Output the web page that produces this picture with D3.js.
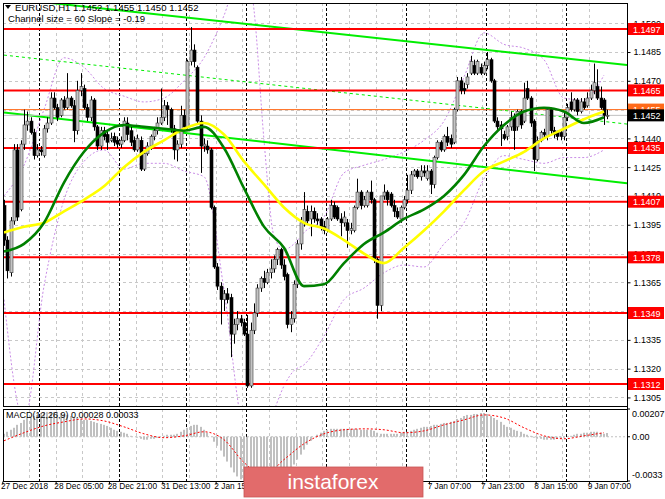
<!DOCTYPE html>
<html><head><meta charset="utf-8">
<script src="https://cdn.jsdelivr.net/npm/d3@7"></script>
<style>body{margin:0;background:#fff}svg{display:block}text{font-family:"Liberation Sans",Arial,sans-serif}</style>
</head><body><svg id="c" width="665" height="499"></svg>
<script>
// ---------- data ----------
const tickBars = [0,16,32,48,64,80,96,112,128,144,160,176];
const tickLabels = ["27 Dec 2018","28 Dec 05:00","28 Dec 21:00","31 Dec 13:00","2 Jan 15:00","3 Jan 07:00","3 Jan 23:00","4 Jan 15:00","7 Jan 07:00","7 Jan 23:00","8 Jan 15:00","9 Jan 07:00"];
const daySeparators = [11,35,55,73,97,121,145,169];
const priceTicks = [1.1305,1.1320,1.1335,1.1350,1.1365,1.1380,1.1395,1.1410,1.1425,1.1440,1.1455,1.1470,1.1485,1.1500];
const levels = [1.1497,1.1465,1.1435,1.1407,1.1378,1.1349,1.1312];
const askPrice = 1.1455, bidPrice = 1.1452;

const open = [1.1405,1.1387,1.1370,1.1397,1.1434,1.1403,1.1437,1.1447,1.1449,1.1443,1.1431,1.1434,1.1431,1.1445,1.1448,1.1461,1.1456,1.1452,1.1460,1.1456,
1.1461,1.1457,1.1444,1.1465,1.1466,1.1456,1.1451,1.1460,1.1446,1.1436,1.1444,1.1442,1.1439,1.1441,1.1439,1.1437,1.1439,1.1448,1.1444,1.1439,
1.1434,1.1439,1.1424,1.1432,1.1436,1.1441,1.1444,1.1448,1.1451,1.1457,1.1455,1.1445,1.1434,1.1437,1.1452,1.1446,1.1480,1.1486,1.1477,1.1449,
1.1436,1.1436,1.1434,1.1404,1.1373,1.1363,1.1356,1.1359,1.1357,1.1338,1.1343,1.1346,1.1344,1.1338,1.1311,1.1340,1.1349,1.1362,1.1367,1.1365,
1.1370,1.1372,1.1377,1.1382,1.1374,1.1369,1.1343,1.1346,1.1364,1.1385,1.1396,1.1402,1.1398,1.1402,1.1398,1.1398,1.1394,1.1392,1.1398,1.1405,
1.1404,1.1398,1.1396,1.1396,1.1392,1.1392,1.1404,1.1412,1.1405,1.1405,1.1412,1.1408,1.1377,1.1353,1.1410,1.1412,1.1411,1.1405,1.1402,1.1398,
1.1404,1.1408,1.1413,1.1421,1.1423,1.1420,1.1423,1.1419,1.1423,1.1416,1.1430,1.1438,1.1434,1.1441,1.1440,1.1438,1.1455,1.1470,1.1466,1.1468,
1.1474,1.1478,1.1474,1.1477,1.1474,1.1478,1.1481,1.1470,1.1449,1.1447,1.1442,1.1441,1.1446,1.1451,1.1446,1.1454,1.1449,1.1466,1.1461,1.1449,
1.1429,1.1439,1.1443,1.1441,1.1455,1.1444,1.1443,1.1443,1.1441,1.1451,1.1459,1.1455,1.1460,1.1454,1.1459,1.1457,1.1461,1.1465,1.1467,1.1461,
1.1460,1.1452];
const high = [1.1408,1.1389,1.1399,1.1437,1.1437,1.1439,1.1455,1.1454,1.1451,1.1445,1.1437,1.1436,1.1447,1.1451,1.1464,1.1464,1.1458,1.1461,1.1462,1.1474,
1.1462,1.1460,1.1470,1.1474,1.1468,1.1458,1.1462,1.1461,1.1447,1.1446,1.1446,1.1444,1.1443,1.1443,1.1441,1.1441,1.1451,1.1451,1.1446,1.1441,
1.1442,1.1441,1.1434,1.1438,1.1442,1.1446,1.1451,1.1466,1.1460,1.1459,1.1456,1.1447,1.1439,1.1457,1.1455,1.1481,1.1498,1.1489,1.1478,1.1452,
1.1440,1.1439,1.1435,1.1405,1.1375,1.1365,1.1361,1.1362,1.1359,1.1346,1.1350,1.1348,1.1346,1.1348,1.1344,1.1354,1.1364,1.1368,1.1371,1.1372,
1.1377,1.1379,1.1383,1.1383,1.1377,1.1370,1.1350,1.1366,1.1387,1.1399,1.1412,1.1405,1.1405,1.1404,1.1401,1.1399,1.1397,1.1399,1.1408,1.1407,
1.1405,1.1401,1.1402,1.1398,1.1396,1.1405,1.1419,1.1413,1.1410,1.1413,1.1418,1.1409,1.1378,1.1410,1.1416,1.1413,1.1412,1.1408,1.1404,1.1405,
1.1410,1.1421,1.1423,1.1424,1.1424,1.1426,1.1426,1.1426,1.1424,1.1431,1.1439,1.1439,1.1442,1.1446,1.1442,1.1456,1.1472,1.1472,1.1469,1.1474,
1.1483,1.1481,1.1481,1.1479,1.1480,1.1485,1.1482,1.1471,1.1451,1.1449,1.1444,1.1447,1.1454,1.1453,1.1455,1.1455,1.1469,1.1470,1.1462,1.1450,
1.1441,1.1444,1.1445,1.1456,1.1456,1.1446,1.1444,1.1444,1.1454,1.1458,1.1464,1.1461,1.1461,1.1461,1.1461,1.1464,1.1468,1.1479,1.1476,1.1467,
1.1461,1.1455];
const low = [1.1384,1.1367,1.1368,1.1395,1.1397,1.1402,1.1434,1.1444,1.1442,1.1429,1.1430,1.1431,1.1430,1.1443,1.1447,1.1455,1.1449,1.1451,1.1455,1.1455,
1.1456,1.1438,1.1442,1.1462,1.1455,1.1449,1.1449,1.1444,1.1434,1.1434,1.1439,1.1434,1.1438,1.1436,1.1435,1.1435,1.1438,1.1439,1.1436,1.1433,
1.1433,1.1423,1.1423,1.1431,1.1434,1.1439,1.1442,1.1447,1.1449,1.1447,1.1443,1.1429,1.1428,1.1435,1.1444,1.1444,1.1478,1.1477,1.1447,1.1422,
1.1433,1.1432,1.1403,1.1372,1.1361,1.1343,1.1350,1.1354,1.1326,1.1333,1.1340,1.1342,1.1337,1.1310,1.1310,1.1338,1.1347,1.1360,1.1362,1.1364,
1.1367,1.1370,1.1374,1.1372,1.1366,1.1341,1.1339,1.1344,1.1362,1.1382,1.1394,1.1395,1.1389,1.1396,1.1395,1.1392,1.1390,1.1391,1.1397,1.1398,
1.1397,1.1389,1.1394,1.1383,1.1390,1.1391,1.1403,1.1403,1.1404,1.1404,1.1406,1.1375,1.1346,1.1350,1.1408,1.1405,1.1404,1.1399,1.1398,1.1396,
1.1403,1.1406,1.1411,1.1420,1.1419,1.1418,1.1420,1.1418,1.1411,1.1414,1.1429,1.1433,1.1433,1.1436,1.1435,1.1437,1.1454,1.1463,1.1463,1.1466,
1.1473,1.1473,1.1473,1.1473,1.1473,1.1476,1.1469,1.1448,1.1444,1.1436,1.1439,1.1439,1.1444,1.1434,1.1444,1.1445,1.1448,1.1460,1.1446,1.1423,
1.1428,1.1438,1.1440,1.1439,1.1442,1.1440,1.1439,1.1439,1.1439,1.1449,1.1454,1.1454,1.1452,1.1453,1.1455,1.1456,1.1460,1.1463,1.1460,1.1455,
1.1447,1.1450];
const close = [1.1387,1.1371,1.1397,1.1434,1.1399,1.1437,1.1447,1.1449,1.1443,1.1431,1.1434,1.1433,1.1445,1.1448,1.1461,1.1456,1.1451,1.1460,1.1456,1.1461,
1.1457,1.1444,1.1465,1.1467,1.1456,1.1451,1.1460,1.1446,1.1436,1.1444,1.1441,1.1438,1.1440,1.1438,1.1437,1.1439,1.1449,1.1442,1.1438,1.1434,
1.1440,1.1424,1.1432,1.1436,1.1441,1.1444,1.1448,1.1451,1.1457,1.1455,1.1445,1.1434,1.1437,1.1452,1.1446,1.1480,1.1486,1.1480,1.1449,1.1436,
1.1437,1.1434,1.1404,1.1373,1.1363,1.1356,1.1359,1.1356,1.1338,1.1343,1.1346,1.1344,1.1338,1.1311,1.1340,1.1349,1.1362,1.1367,1.1365,1.1370,
1.1372,1.1377,1.1382,1.1374,1.1368,1.1343,1.1346,1.1364,1.1385,1.1396,1.1403,1.1397,1.1402,1.1398,1.1397,1.1394,1.1392,1.1398,1.1405,1.1399,
1.1398,1.1396,1.1399,1.1392,1.1393,1.1404,1.1412,1.1405,1.1408,1.1412,1.1408,1.1377,1.1353,1.1410,1.1412,1.1408,1.1405,1.1402,1.1399,1.1404,
1.1408,1.1413,1.1421,1.1423,1.1420,1.1423,1.1422,1.1423,1.1416,1.1430,1.1438,1.1434,1.1441,1.1438,1.1437,1.1455,1.1470,1.1465,1.1465,1.1472,
1.1480,1.1474,1.1480,1.1474,1.1478,1.1481,1.1470,1.1449,1.1446,1.1445,1.1440,1.1446,1.1451,1.1444,1.1454,1.1447,1.1461,1.1461,1.1448,1.1429,
1.1439,1.1443,1.1442,1.1455,1.1444,1.1442,1.1441,1.1441,1.1451,1.1456,1.1455,1.1460,1.1454,1.1459,1.1456,1.1461,1.1465,1.1469,1.1461,1.1456,
1.1452,1.1452];

// indicator readings, sampled every 6 bars
const maBars = [0,6,12,18,24,30,36,42,48,54,60,66,72,78,84,90,96,102,108,114,120,126,132,138,144,150,156,162,168,174,180];
const maGreen = [1.1381,1.1385,1.1396,1.1417,1.1433,1.1443,1.1447,1.1446,1.1445,1.1444,1.1446,1.1435,1.1414,1.1394,1.1383,1.1363,1.1364,1.1375,1.1385,1.1391,1.1398,1.1403,1.1410,1.1421,1.1436,1.1447,1.1454,1.1456,1.1454,1.1448,1.1451];
const maYellow = [1.1391,1.1394,1.1396,1.1402,1.1408,1.1415,1.1425,1.1433,1.1439,1.1445,1.1448,1.1442,1.1428,1.1416,1.1404,1.1396,1.1393,1.1387,1.1380,1.1375,1.1383,1.1392,1.1402,1.1413,1.1423,1.1428,1.1433,1.1440,1.1445,1.1450,1.1454];
const macdSignal = [-0.0003,0.0003,0.00081,0.00111,0.00133,0.00118,0.00074,0.00022,-0.00007,0.00007,0.00037,-0.00022,-0.00192,-0.00288,-0.0017,-0.00052,0.00022,0.00052,0.00059,0.00052,0.0003,0.00044,0.00089,0.00126,0.00163,0.0014,0.00067,0.00007,-0.00015,0.00007,0.0003];

// band readings (purple dotted)
const bandBars = [0,6,12,18,24,30,36,42,48,54,60,66,72,75,78,81,84,87,90,96,102,108,114,120,126,132,138,144,150,156,162,168,174,180];
const bandUpper = [1.1410,1.1426,1.1455,1.1482,1.1477,1.1466,1.1462,1.1459,1.1461,1.1470,1.1482,1.1504,1.1533,1.1507,1.1439,1.1389,1.1382,1.1385,1.1391,1.1399,1.1422,1.1426,1.1429,1.1433,1.1439,1.1449,1.1472,1.1495,1.1489,1.1487,1.1481,1.1461,1.1460,1.1473];
const bandLower = [1.1356,1.1293,1.1363,1.1408,1.1428,1.1434,1.1424,1.1427,1.1427,1.1423,1.1420,1.1361,1.1288,1.1283,1.1283,1.1298,1.1311,1.1319,1.1322,1.1337,1.1356,1.1362,1.1370,1.1374,1.1373,1.1385,1.1396,1.1419,1.1431,1.1429,1.1427,1.1430,1.1430,1.1434];

const macdHist = [0.00022,0.00037,0.00052,0.00067,0.00089,0.00103,0.00126,0.0014,0.00148,0.00155,0.00163,0.00177,0.00185,0.00185,0.00185,0.00185,0.00185,0.00177,0.0017,0.00163,
0.00155,0.00148,0.0014,0.00133,0.00126,0.00126,0.00118,0.00111,0.00103,0.00096,0.00089,0.00081,0.00067,0.00052,0.00044,0.00037,0.0003,0.00022,0.00007,0,
-0.00007,-0.00015,-0.00022,-0.00022,-0.00015,-0.00015,-0.00007,0,0.00007,0.00015,0.00015,0.00015,0.00022,0.00037,0.00052,0.00067,0.00081,0.00089,0.00089,0.00074,
0.00052,0.0003,0,-0.00037,-0.00067,-0.00103,-0.00148,-0.00185,-0.00229,-0.00266,-0.00296,-0.00318,-0.0034,-0.0037,-0.00384,-0.00392,-0.00392,-0.00392,-0.00384,-0.00377,
-0.00362,-0.00347,-0.00325,-0.00303,-0.00281,-0.00266,-0.00237,-0.00207,-0.0017,-0.00133,-0.00096,-0.00059,-0.0003,0,0.00015,0.0003,0.00044,0.00052,0.00059,0.00059,
0.00059,0.00059,0.00059,0.00059,0.00059,0.00059,0.00059,0.00052,0.00052,0.00052,0.00052,0.00044,0.0003,0.00022,0.00022,0.00022,0.00022,0.00022,0.00022,0.0003,
0.00037,0.00037,0.00044,0.00052,0.00059,0.00067,0.00074,0.00074,0.00081,0.00089,0.00089,0.00096,0.00103,0.00103,0.00111,0.00118,0.00133,0.0014,0.00155,0.00163,
0.00163,0.0017,0.0017,0.00177,0.00177,0.0017,0.00155,0.0014,0.00126,0.00111,0.00089,0.00074,0.00067,0.00052,0.00044,0.00037,0.00022,0.00015,0.00007,-0.00007,
-0.00015,-0.00015,-0.00022,-0.00022,-0.00022,-0.00022,-0.00015,-0.00015,-0.00007,0,0.00007,0.00015,0.00022,0.00022,0.0003,0.0003,0.00037,0.00037,0.00037,0.0003,
0.00022,0.00028];

const channelBars = [0,181];
const channelUpper = [1.15132,1.14793];
const channelMiddle = [1.14834,1.14486];
const channelLower = [1.14535,1.14178];

// ---------- drawing ----------
const svg = d3.select("#c");
const N = close.length;
const L = 3, R = 627, mainTop = 3, mainBot = 406, macTop = 409, macBot = 481;
const x = d3.scaleLinear().domain([0, N-1]).range([4, 4 + (N-1)*10/3]);
const y = d3.scaleLinear().domain([1.1312, 1.1497]).range([384, 29]);
const my = d3.scaleLinear().domain([-0.0033, 0.00207]).range([macBot, macTop]);
const sep = i => x(i) - 1.7;
const logo = {x:244, y:467, w:179, h:30};

svg.append("rect").attr("width",665).attr("height",499).attr("fill","#fff");
const defs = svg.append("defs");
defs.append("clipPath").attr("id","cm").append("rect").attr("x",L).attr("y",mainTop).attr("width",R-L).attr("height",mainBot-mainTop);
defs.append("clipPath").attr("id","cd").append("rect").attr("x",L).attr("y",macTop).attr("width",R-L).attr("height",macBot-macTop);

const gm = svg.append("g").attr("clip-path","url(#cm)");
const gd = svg.append("g").attr("clip-path","url(#cd)");

// grids
const vgrid = d3.range(0, N, 8);
[[gm,mainTop,mainBot],[gd,macTop,macBot]].forEach(([g,t,b])=>{
  g.selectAll(null).data(vgrid).join("line").attr("x1",d=>Math.round(sep(d))+0.5).attr("x2",d=>Math.round(sep(d))+0.5)
   .attr("y1",t).attr("y2",b).attr("stroke","#c8c8c8").attr("stroke-dasharray","3,3");
  g.selectAll(null).data(daySeparators).join("line").attr("x1",d=>Math.round(sep(d))+0.5).attr("x2",d=>Math.round(sep(d))+0.5)
   .attr("y1",t).attr("y2",b).attr("stroke","#000").attr("stroke-dasharray","3,2");
});
gm.selectAll(null).data(priceTicks).join("line").attr("x1",L).attr("x2",R).attr("y1",d=>Math.round(y(d))+0.5).attr("y2",d=>Math.round(y(d))+0.5)
  .attr("stroke","#c8c8c8").attr("stroke-dasharray","3,3");

// bands (purple dotted)
const lineAt = (bars, arr, sc) => d3.line().x((d,i)=>x(bars[i])).y(d=>sc(d)).curve(d3.curveMonotoneX)(arr);
[bandUpper, bandLower].forEach(a=>gm.append("path").attr("d",lineAt(bandBars,a,y)).attr("fill","none").attr("stroke","#c98ce6").attr("stroke-width",1).attr("stroke-dasharray","2,2"));

// channel
const tEnd = x.invert(R);
function chan(v){ const s=(v[1]-v[0])/(channelBars[1]-channelBars[0]); return [[x(channelBars[0]),y(v[0])],[R,y(v[0]+s*(tEnd-channelBars[0]))]]; }
gm.append("path").attr("d",d3.line()(chan(channelUpper))).attr("stroke","#00ee00").attr("stroke-width",2).attr("fill","none");
gm.append("path").attr("d",d3.line()(chan(channelMiddle))).attr("stroke","#00ee00").attr("stroke-width",1).attr("stroke-dasharray","3,3").attr("fill","none");
gm.append("path").attr("d",d3.line()(chan(channelLower))).attr("stroke","#00ee00").attr("stroke-width",2).attr("fill","none");

// levels
gm.selectAll(null).data(levels).join("line").attr("x1",L).attr("x2",R).attr("y1",d=>y(d)).attr("y2",d=>y(d)).attr("stroke","#ff0000").attr("stroke-width",2);
gm.append("line").attr("x1",L).attr("x2",R).attr("y1",y(bidPrice)).attr("y2",y(bidPrice)).attr("stroke","#c0c0c0").attr("stroke-width",1);
gm.append("line").attr("x1",L).attr("x2",R).attr("y1",y(askPrice)).attr("y2",y(askPrice)).attr("stroke","#ff6a1a").attr("stroke-width",1);

// candles
const cg = gm.append("g");
cg.selectAll("line").data(close).join("line").attr("x1",(d,i)=>Math.round(x(i))+0.5).attr("x2",(d,i)=>Math.round(x(i))+0.5)
  .attr("y1",(d,i)=>y(high[i])).attr("y2",(d,i)=>y(low[i])).attr("stroke","#000").attr("stroke-width",1);
cg.selectAll("rect").data(close).join("rect")
  .attr("x",(d,i)=>Math.round(x(i))-1).attr("width",3)
  .attr("y",(d,i)=>y(Math.max(open[i],close[i])))
  .attr("height",(d,i)=>Math.max(1,Math.abs(y(open[i])-y(close[i]))))
  .attr("fill",(d,i)=>close[i]>=open[i]?"#c4c4c4":"#000")
  .attr("stroke",(d,i)=>close[i]>=open[i]?"#3a3a3a":"#000").attr("stroke-width",0.6);

// MAs
gm.append("path").attr("d",lineAt(maBars,maYellow,y)).attr("fill","none").attr("stroke","#ffff00").attr("stroke-width",2.6);
gm.append("path").attr("d",lineAt(maBars,maGreen,y)).attr("fill","none").attr("stroke","#008000").attr("stroke-width",2.6);

// MACD
gd.append("line").attr("x1",L).attr("x2",R).attr("y1",my(0)).attr("y2",my(0)).attr("stroke","#c0c0c0").attr("stroke-dasharray","2,2");
gd.selectAll("rect").data(macdHist).join("rect").attr("x",(d,i)=>Math.round(x(i))-1).attr("width",2)
  .attr("y",d=>Math.min(my(d),my(0))).attr("height",d=>Math.abs(my(d)-my(0))).attr("fill","#c0c0c0");
gd.append("path").attr("d",lineAt(maBars,macdSignal,my)).attr("fill","none").attr("stroke","#ff0000").attr("stroke-width",1).attr("stroke-dasharray","2,2");

// frames
svg.append("rect").attr("x",L+0.5).attr("y",mainTop+0.5).attr("width",R-L).attr("height",mainBot-mainTop).attr("fill","none").attr("stroke","#000");
svg.append("rect").attr("x",L+0.5).attr("y",macTop+0.5).attr("width",R-L).attr("height",macBot-macTop).attr("fill","none").attr("stroke","#000");

// price axis (labels hidden under a level box are not drawn)
const boxVals = levels.concat([askPrice, bidPrice]);
const visTicks = priceTicks.filter(t => !boxVals.some(v => Math.abs(y(v)-y(t)) < 3.5));
const ya = svg.append("g").attr("transform",`translate(${R+0.5},0)`).call(d3.axisRight(y).tickValues(priceTicks).tickSize(3).tickPadding(3).tickFormat(d => visTicks.includes(d) ? d3.format(".4f")(d) : ""));
ya.select(".domain").remove();
ya.selectAll("text").attr("font-size",9).attr("fill","#000").attr("font-family","Liberation Sans, Arial");
ya.selectAll("line").attr("stroke","#000");

// level labels
const lab = (v, fill, txt) => {
  svg.append("rect").attr("x",R+1).attr("y",y(v)-6).attr("width",36).attr("height",12).attr("fill",fill);
  svg.append("text").attr("x",R+6).attr("y",y(v)+3.5).attr("font-size",9).attr("fill","#fff").text(txt);
};
levels.forEach(v=>lab(v,"#ff0000",v.toFixed(4)));
lab(askPrice,"#ff6a1a",askPrice.toFixed(4));
lab(bidPrice,"#000",bidPrice.toFixed(4));

// macd axis labels
const macdLabels = [[0.00207,"0.00207",8],[0,"0.00",3],[-0.0033,"-0.0033",-3]];
macdLabels.forEach(([v,t,dy])=>{
  svg.append("line").attr("x1",R).attr("x2",R+3).attr("y1",my(v)).attr("y2",my(v)).attr("stroke","#000");
  svg.append("text").attr("x",R+5).attr("y",my(v)+dy).attr("font-size",9).text(t);
});

// time axis (labels fully covered by the watermark are not drawn)
const visBar = b => { const s = x(b)-3; return !(s > logo.x && s + 40 < logo.x + logo.w); };
const xa = svg.append("g").attr("transform",`translate(0,${macBot+0.5})`).call(d3.axisBottom(x).tickValues(tickBars).tickSize(3).tickFormat((d,i)=> visBar(d) ? tickLabels[i] : ""));
xa.select(".domain").remove();
xa.selectAll("line").attr("stroke","#000").attr("transform","translate(-1.7,0)");
xa.selectAll("text").attr("text-anchor","start").attr("dx",-3.5).attr("dy",1).attr("font-size",8.3).attr("fill","#000").attr("font-family","Liberation Sans, Arial");

// right border line
svg.append("line").attr("x1",R+0.5).attr("x2",R+0.5).attr("y1",mainTop).attr("y2",macBot).attr("stroke","#000");

// titles
svg.append("path").attr("d","M5,5 L11,5 L8,9 Z").attr("fill","#000");
svg.append("text").attr("x",15).attr("y",11).attr("font-size",9.6).text("EURUSD,H1  1.1452 1.1455 1.1450 1.1452");
svg.append("text").attr("x",8).attr("y",22).attr("font-size",9.6).text("Channel size = 60 Slope = -0.19");
svg.append("text").attr("x",6).attr("y",418).attr("font-size",9).text("MACD(12,26,9) 0.00028 0.00033");

// watermark
svg.append("rect").attr("x",logo.x).attr("y",logo.y).attr("width",logo.w).attr("height",logo.h).attr("fill","#e26b6b").attr("stroke","#c95555").attr("stroke-width",0.8);
svg.append("text").attr("x",333).attr("y",489).attr("text-anchor","middle").attr("font-size",21).attr("fill","#fff")
  .attr("font-family","Open Sans, Lato, sans-serif").text("instaforex");
</script></body></html>
